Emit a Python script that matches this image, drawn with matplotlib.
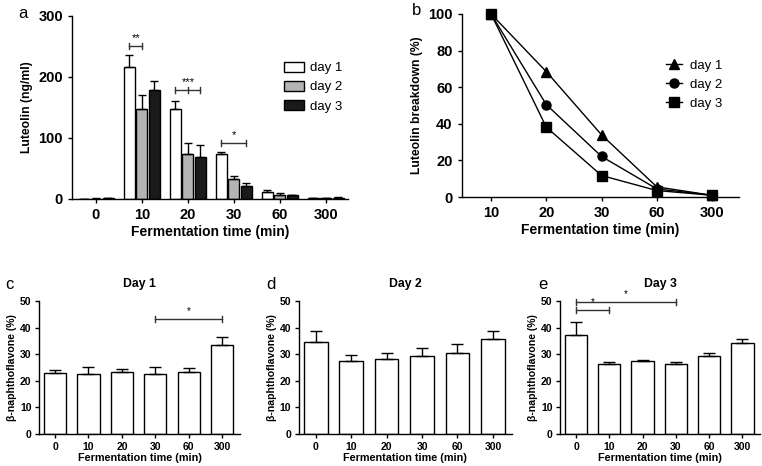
import numpy as np
import matplotlib.pyplot as plt

plt.rcParams['font.family'] = ['Liberation Sans', 'DejaVu Sans']
plt.rcParams['axes.linewidth'] = 1.0

# panel a - luteolin concentration
times_a = ['0', '10', '20', '30', '60', '300']
lut_day1 = [0.4, 216, 148, 74, 12, 0.8]
lut_day1_err = [0.3, 20, 13, 3, 3, 0.5]
lut_day2 = [0.6, 147, 74, 33, 7, 1.5]
lut_day2_err = [0.3, 24, 17, 5, 2, 0.5]
lut_day3 = [1.0, 179, 69, 21, 6, 2]
lut_day3_err = [0.3, 15, 19, 5, 1, 0.5]

# panel b - breakdown
times_b = ['10', '20', '30', '60', '300']
brk_day1 = [100, 68.5, 34, 5.6, 1]
brk_day2 = [100, 50.5, 22.2, 4.5, 1]
brk_day3 = [100, 38.2, 11.8, 3.6, 1]

# panels c-e - beta-naphthoflavone
times_c = ['0', '10', '20', '30', '60', '300']
bnf_day1 = [22.8, 22.4, 23.2, 22.4, 23.2, 33.4]
bnf_day1_err = [1.4, 2.8, 1.4, 2.8, 1.7, 3.2]
bnf_day2 = [34.6, 27.5, 28.1, 29.2, 30.5, 35.6]
bnf_day2_err = [4.0, 2.2, 2.4, 3.0, 3.3, 3.0]
bnf_day3 = [37.2, 26.3, 27.3, 26.2, 29.5, 34.1]
bnf_day3_err = [5.0, 0.8, 0.7, 0.8, 1.0, 1.7]

fig = plt.figure(figsize=(7.62, 4.66), dpi=100)


def style(ax, size, pad=3.5):
    ax.spines['top'].set_visible(False)
    ax.spines['right'].set_visible(False)
    ax.tick_params(direction='out', length=3, width=1, labelsize=size, pad=pad)
    for lab in ax.get_xticklabels() + ax.get_yticklabels():
        lab.set_fontweight('bold')


def bracket(ax, x1, x2, y, h, text, fs, mid=None):
    ax.plot([x1, x2], [y, y], color='#333333', lw=1, clip_on=False)
    for xx in [x1, x2] + ([mid] if mid is not None else []):
        ax.plot([xx, xx], [y - h, y + h], color='#333333', lw=1, clip_on=False)
    ax.text((x1 + x2) / 2, y + h, text, ha='center', va='bottom', fontsize=fs, clip_on=False)


# ---- panel a
ax = fig.add_axes([0.0945, 0.573, 0.362, 0.393])
x = np.arange(len(times_a))
w = 0.24
off = 0.27
for vals, errs, fc, dx, lab in [(lut_day1, lut_day1_err, 'white', -off, 'day 1'),
                                (lut_day2, lut_day2_err, '#b4b4b4', 0, 'day 2'),
                                (lut_day3, lut_day3_err, '#1a1a1a', off, 'day 3')]:
    ax.bar(x + dx, vals, w, color=fc, edgecolor='black', linewidth=1, label=lab,
           yerr=[np.zeros(len(errs)), errs], capsize=3,
           error_kw=dict(elinewidth=1, capthick=1, ecolor='black'))
ax.set_xlim(-0.52, 5.48)
ax.set_ylim(0, 300)
ax.set_yticks([0, 100, 200, 300])
ax.set_xticks(x)
ax.set_xticklabels(times_a)
ax.set_ylabel('Luteolin (ng/ml)', fontsize=8.7, fontweight='bold', labelpad=4)
ax.set_xlabel('Fermentation time (min)', fontsize=10, fontweight='bold', labelpad=2)
style(ax, 10.5)
ax.legend(loc='upper left', bbox_to_anchor=(0.768, 0.75), frameon=False, fontsize=9.5,
          handlelength=1.5, handleheight=0.8, handletextpad=0.45, labelspacing=0.5,
          borderpad=0, borderaxespad=0)
bracket(ax, 1 - off, 1, 250, 5, '**', 8)
bracket(ax, 2 - off, 2 + off, 178, 5, '***', 8, mid=2)
bracket(ax, 3 - off, 3 + off, 92, 5, '*', 8)
fig.text(0.03, 0.972, 'a', fontsize=12, va='center', ha='center')

# ---- panel b
ax = fig.add_axes([0.606, 0.577, 0.364, 0.393])
xb = np.arange(len(times_b))
ax.plot(xb, brk_day1, '-^', color='black', lw=1, ms=6.5, label='day 1', clip_on=False)
ax.plot(xb, brk_day2, '-o', color='black', lw=1, ms=6.5, label='day 2', clip_on=False)
ax.plot(xb, brk_day3, '-s', color='black', lw=1, ms=6.5, label='day 3', clip_on=False)
ax.set_xlim(-0.53, 4.49)
ax.set_ylim(0, 100)
ax.set_yticks([0, 20, 40, 60, 80, 100])
ax.set_xticks(xb)
ax.set_xticklabels(times_b)
ax.set_ylabel('Luteolin breakdown (%)', fontsize=8.7, fontweight='bold', labelpad=4)
ax.set_xlabel('Fermentation time (min)', fontsize=10, fontweight='bold', labelpad=2)
style(ax, 10.5)
ax.legend(loc='upper left', bbox_to_anchor=(0.736, 0.75), frameon=False, fontsize=9.5,
          handlelength=1.25, handletextpad=0.6, labelspacing=0.5,
          borderpad=0, borderaxespad=0)
fig.text(0.546, 0.978, 'b', fontsize=12, va='center', ha='center')

# ---- panels c, d, e
xc = np.arange(len(times_c))
panels = [('c', 'Day 1', bnf_day1, bnf_day1_err, [0.0512, 0.0687, 0.264, 0.2854], 0.012),
          ('d', 'Day 2', bnf_day2, bnf_day2_err, [0.392, 0.0687, 0.280, 0.2854], 0.356),
          ('e', 'Day 3', bnf_day3, bnf_day3_err, [0.735, 0.0687, 0.263, 0.2854], 0.712)]
axes = []
for letter, title, vals, errs, rect, lx in panels:
    ax = fig.add_axes(rect)
    ax.bar(xc, vals, 0.67, color='white', edgecolor='black', linewidth=1,
           yerr=[np.zeros(len(errs)), errs], capsize=4,
           error_kw=dict(elinewidth=1, capthick=1, ecolor='black'))
    ax.set_xlim(-0.48, 5.54)
    ax.set_ylim(0, 50)
    ax.set_yticks([0, 10, 20, 30, 40, 50])
    ax.set_xticks(xc)
    ax.set_xticklabels(times_c)
    ax.set_title(title, fontsize=8.8, fontweight='bold', pad=10)
    ax.set_ylabel('β-naphthoflavone (%)', fontsize=7.6, fontweight='bold', labelpad=2)
    ax.set_xlabel('Fermentation time (min)', fontsize=7.8, fontweight='bold', labelpad=1)
    style(ax, 7.5, pad=2.5)
    fig.text(lx, 0.39, letter, fontsize=12, va='center', ha='center')
    axes.append(ax)

bracket(axes[0], 3, 5, 43.2, 1.2, '*', 7)
bracket(axes[2], 0, 1, 46.5, 1.2, '*', 7)
bracket(axes[2], 0, 3, 49.6, 1.2, '*', 7)

fig.savefig('out.png', dpi=100)
